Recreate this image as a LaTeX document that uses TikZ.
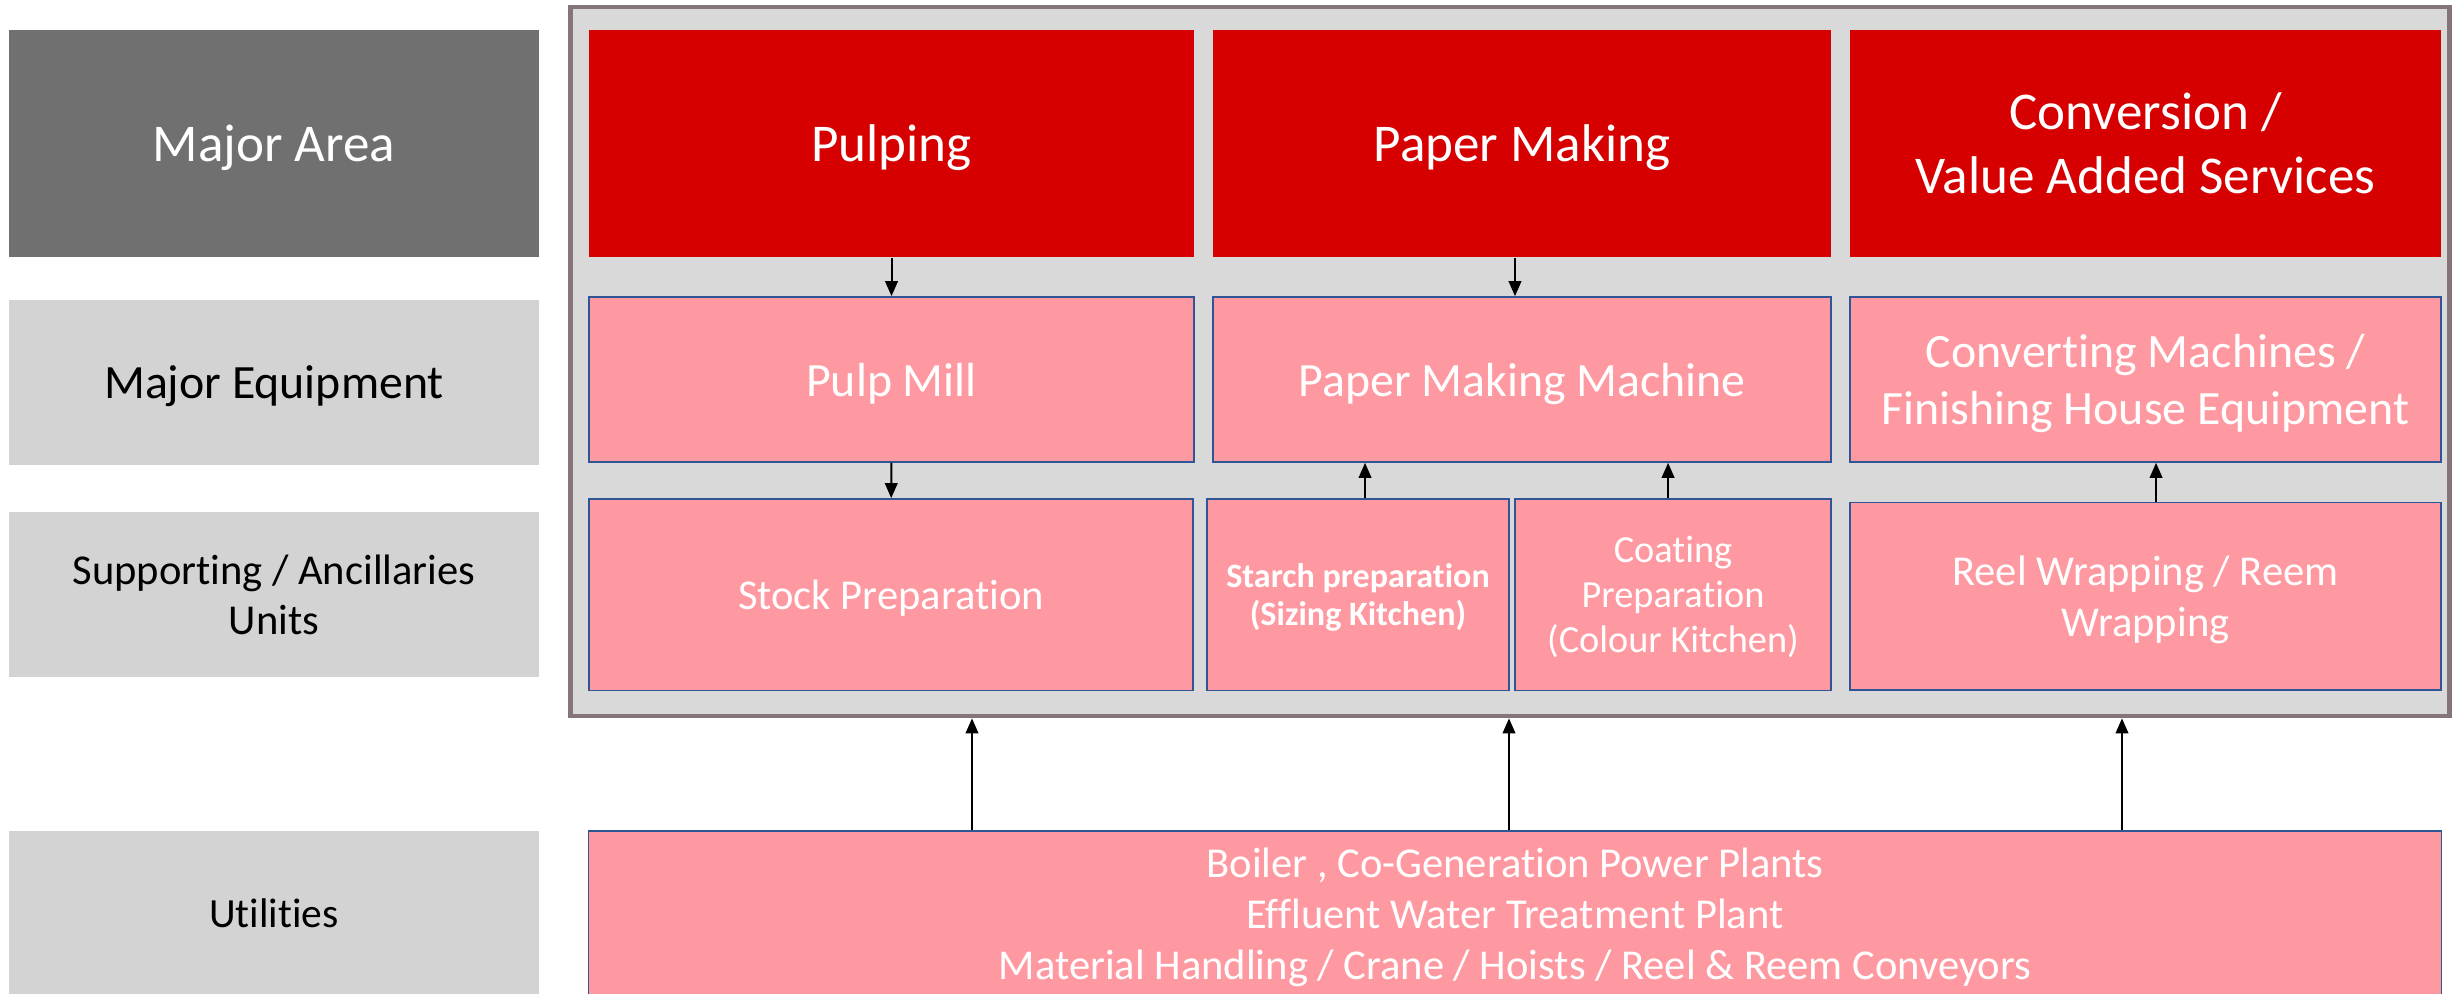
\documentclass[tikz,border=0pt]{standalone}
\usepackage{fontspec}
\setmainfont{Carlito}[Ligatures = NoCommon]
\usepackage{tikz}
\usetikzlibrary{arrows.meta, positioning}

\definecolor{areared}{RGB}{214,0,0}
\definecolor{unitpink}{RGB}{255,153,161}
\definecolor{unitedge}{RGB}{47,85,151}
\definecolor{rowdark}{RGB}{112,112,112}
\definecolor{rowlight}{RGB}{211,211,211}
\definecolor{framefill}{RGB}{217,217,217}
\definecolor{frameedge}{RGB}{132,118,120}

\begin{document}
\begin{tikzpicture}[x = 0.01cm, y = -0.01cm,
    rowname/.style = {rectangle, inner sep = 0pt, align = center, fill = rowlight, text depth = 0pt,
        minimum width = 5.3cm, minimum height = 1.65cm},
    areabox/.style = {rectangle, inner sep = 0pt, align = center, fill = areared, text = white,
        text depth = 0pt, minimum height = 2.27cm, font = \fontsize{15.1}{18.2}\selectfont},
    unitbox/.style = {rectangle, inner sep = 0pt, align = center, fill = unitpink, text = white,
        text depth = 0pt, draw = unitedge, line width = 0.45pt},
    arr/.style = {-{Triangle[length = 4.3pt, width = 3.6pt]}, line width = 0.57pt}]
            \useasboundingbox (0, 0) rectangle (2456, 994);
            \clip (0, 0) rectangle (2456, 994);

            \node[rowname, fill = rowdark, text = white, minimum height = 2.27cm,
            font = \fontsize{15.1}{18.2}\selectfont] (rarea) at (274, 143.5) {Major Area};
            \node[rowname, font = \fontsize{13.6}{16.2}\selectfont] (requip) at (274, 382.5) {Major Equipment};
            \node[rowname, font = \fontsize{12.1}{14.2}\selectfont] (rsupport) at (274, 594.5)
            {Supporting / Ancillaries\\Units};
            \node[rowname, font = \fontsize{11.8}{14.2}\selectfont] (rutil) at (274, 913.5) {Utilities};

            \node[draw = frameedge, line width = 1.2pt, fill = framefill, minimum width = 18.78cm,
            minimum height = 7.09cm] (frame) at (1510, 361.5) {};

            \node[areabox, minimum width = 6.05cm] (pulping) at (891.5, 143.5) {Pulping};
            \node[areabox, minimum width = 6.18cm] (papermaking) at (1522, 143.5) {Paper Making};
            \node[areabox, minimum width = 5.91cm] (conversion) at (2145.5, 143.5)
            {Conversion /\\Value Added Services};

            \node[unitbox, minimum width = 6.05cm, minimum height = 1.65cm,
            font = \fontsize{13.6}{16.2}\selectfont] (pulpmill) at (891.5, 379.5) {Pulp Mill};
            \node[unitbox, minimum width = 6.18cm, minimum height = 1.65cm,
            font = \fontsize{13.6}{16.2}\selectfont] (pmachine) at (1522, 379.5) {Paper Making Machine};
            \node[unitbox, minimum width = 5.91cm, minimum height = 1.65cm,
            font = \fontsize{13.6}{16.2}\selectfont] (finishing) at (2145.5, 379.5)
            {Converting Machines /\\Finishing House Equipment};

            \node[unitbox, minimum width = 6.04cm, minimum height = 1.915cm,
            font = \fontsize{12.1}{14.2}\selectfont] (stock) at (891, 594.75) {Stock Preparation};
            \node[unitbox, minimum width = 3.02cm, minimum height = 1.915cm,
            font = \bfseries\fontsize{9.7}{10.9}\selectfont] (starch) at (1358, 594.75)
            {Starch preparation\\(Sizing Kitchen)};
            \node[unitbox, minimum width = 3.16cm, minimum height = 1.915cm,
            font = \fontsize{10.9}{12.8}\selectfont] (coating) at (1673, 594.75)
            {Coating\\Preparation\\(Colour Kitchen)};
            \node[unitbox, minimum width = 5.91cm, minimum height = 1.875cm,
            font = \fontsize{12.1}{14.3}\selectfont] (reel) at (2145.5, 596.3)
            {Reel Wrapping / Reem\\Wrapping};

            \node[unitbox, minimum width = 18.52cm, minimum height = 1.66cm,
            font = \fontsize{12.1}{14.5}\selectfont] (util) at (1515, 914)
            {Boiler , Co-Generation Power Plants\\Effluent Water Treatment Plant\\
            Material Handling / Crane / Hoists / Reel \& Reem Conveyors};

            \draw[arr] (pulping) -- (pulpmill);
            \draw[arr] (papermaking.south) ++(-7, 0) coordinate (pmtail) -- (pmtail |- pmachine.north);
            \draw[arr] (pulpmill) -- (stock);
            \draw[arr] ([xshift = 2pt]starch.north) -- ([xshift = 2pt]starch.north |- pmachine.south);
            \draw[arr] ([xshift = -1.4pt]coating.north) -- ([xshift = -1.4pt]coating.north |- pmachine.south);
            \draw[arr] ([xshift = 3pt]reel.north) -- ([xshift = 3pt]reel.north |- finishing.south);
            \foreach \x in {972, 1509, 2122}
                \draw[arr] (util.north -| \x, 0) -- (frame.south -| \x, 0);
        \end{tikzpicture}
\end{document}
